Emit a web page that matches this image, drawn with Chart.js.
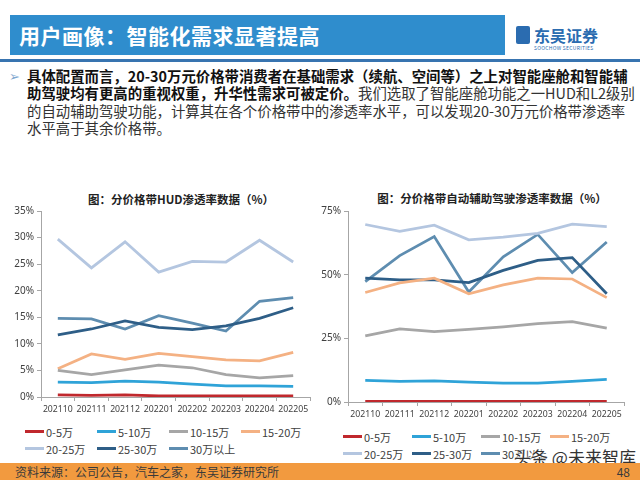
<!DOCTYPE html>
<html>
<head>
<meta charset="utf-8">
<title>用户画像：智能化需求显著提高</title>
<script src="https://cdn.jsdelivr.net/npm/chart.js"></script>
<style>
  body { margin:0; width:640px; height:480px; position:relative; overflow:hidden; background:#fff;
         font-family:"Noto Sans CJK SC", "Noto Sans", sans-serif; }
  .bar { position:absolute; left:10px; top:15px; width:495px; height:40px; background:#2F8DCD; }
  .bar span { position:absolute; left:9px; top:5px; color:#fff; font-weight:bold; font-size:21px; letter-spacing:0.5px; }
  .rule { position:absolute; left:0; top:59px; width:640px; height:3px; background:#3874B0; }
  .logo { position:absolute; left:516px; top:24px; width:100px; height:30px; }
  .logo .icon { position:absolute; left:0; top:2px; width:14px; height:18px; background:#2B6CB0; border-radius:2px; }
  .logo .cn { position:absolute; left:18px; top:-1px; font-size:16px; font-weight:bold; color:#2B6CB0; }
  .logo .en { position:absolute; left:18px; top:20px; font-size:5px; color:#2B6CB0; letter-spacing:0.3px; }
  .bullet { position:absolute; left:9px; top:66px; font-size:13px; color:#7FA7CF; }
  .text { position:absolute; left:27px; top:67px; font-size:14.4px; line-height:17.3px; color:#333; white-space:nowrap; }
  .text b { color:#111; }
  .ctitle { position:absolute; font-size:11.5px; font-weight:bold; color:#222; transform:translateX(-50%); white-space:nowrap; }
  canvas { position:absolute; }
  .legend { position:absolute; display:grid; row-gap:4px; font-size:11px; color:#404040; }
  .legend div { display:flex; align-items:center; height:13px; white-space:nowrap; }
  .legend i { display:inline-block; width:19px; height:3px; margin-right:2px; }
  .footer { position:absolute; left:0; top:463px; width:640px; height:17px; background:#F29A3F; }
  .footer span { position:absolute; left:15px; top:0px; font-size:12px; color:#3a3a3a; }
  .footer em { position:absolute; right:10px; top:0px; font-size:12px; font-style:normal; color:#3a3a3a; }
  .mark { position:absolute; left:514px; top:444px; font-size:17px; color:#333;
          text-shadow:0 0 2px #fff, 0 0 2px #fff; white-space:nowrap; }
</style>
</head>
<body>
  <div class="bar"><span>用户画像：智能化需求显著提高</span></div>
  <div class="rule"></div>
  <div class="logo"><div class="icon"></div><div class="cn">东吴证券</div><div class="en">SOOCHOW SECURITIES</div></div>

  <div class="bullet">➢</div>
  <div class="text">
    <b>具体配置而言，20-30万元价格带消费者在基础需求（续航、空间等）之上对智能座舱和智能辅</b><br>
    <b>助驾驶均有更高的重视权重，升华性需求可被定价。</b>我们选取了智能座舱功能之一HUD和L2级别<br>
    的自动辅助驾驶功能，计算其在各个价格带中的渗透率水平，可以发现20-30万元价格带渗透率<br>
    水平高于其余价格带。
  </div>

  <div class="ctitle" style="left:181px; top:191px;">图：分价格带HUD渗透率数据（%）</div>
  <div class="ctitle" style="left:492px; top:190px;">图：分价格带自动辅助驾驶渗透率数据（%）</div>

  <canvas id="hudChart" width="320" height="220" style="left:0; top:200px;"></canvas>
  <canvas id="adasChart" width="320" height="225" style="left:320px; top:200px;"></canvas>

  <div class="legend" id="hudLegend" style="left:25px; top:425px; grid-template-columns:repeat(4, 72px);"></div>
  <div class="legend" id="adasLegend" style="left:343px; top:430px; grid-template-columns:repeat(4, 69px);"></div>

  <div class="mark">头条 @未来智库</div>
  <div class="footer"><span>资料来源：公司公告，汽车之家，东吴证券研究所</span><em>48</em></div>

  <script>
    const months = ['202110', '202111', '202112', '202201', '202202', '202203', '202204', '202205'];
    const bands = ['0-5万', '5-10万', '10-15万', '15-20万', '20-25万', '25-30万', '30万以上'];
    const bandColors = ['#C0282D', '#2FA3D8', '#A6A6A6', '#F4B183', '#B4C6E0', '#2E5E87', '#5E8DB0'];

    // HUD penetration (%)
    const hud0to5 = [0.4, 0.3, 0.4, 0.2, 0.2, 0.2, 0.2, 0.2];
    const hud5to10 = [2.8, 2.7, 3.0, 2.8, 2.4, 2.1, 2.1, 2.0];
    const hud10to15 = [5.0, 4.2, 5.1, 6.0, 5.5, 4.2, 3.6, 4.0];
    const hud15to20 = [5.3, 8.1, 7.1, 8.2, 7.6, 7.0, 6.8, 8.4];
    const hud20to25 = [29.7, 24.3, 29.2, 23.5, 25.5, 25.4, 29.5, 25.4];
    const hud25to30 = [11.7, 12.8, 14.3, 13.1, 12.7, 13.4, 14.8, 16.8];
    const hud30plus = [14.8, 14.7, 12.8, 15.3, 13.9, 12.4, 18.0, 18.7];

    // L2 driver assistance penetration (%)
    const adas0to5 = [0.2, 0.2, 0.2, 0.2, 0.2, 0.2, 0.2, 0.2];
    const adas5to10 = [8.5, 8.1, 8.3, 7.8, 7.4, 7.4, 8.1, 8.9];
    const adas10to15 = [26.0, 28.7, 27.6, 28.5, 29.5, 30.8, 31.6, 29.0];
    const adas15to20 = [43.0, 46.8, 48.6, 42.5, 46.0, 48.6, 48.3, 41.0];
    const adas20to25 = [69.7, 67.0, 69.4, 63.7, 64.7, 66.2, 69.8, 68.9];
    const adas25to30 = [48.6, 48.0, 48.0, 46.9, 51.7, 55.6, 56.7, 42.5];
    const adas30plus = [47.3, 57.5, 65.0, 43.2, 57.0, 65.8, 50.8, 62.8];

    const hudSeries = [hud0to5, hud5to10, hud10to15, hud15to20, hud20to25, hud25to30, hud30plus];
    const adasSeries = [adas0to5, adas5to10, adas10to15, adas15to20, adas20to25, adas25to30, adas30plus];

    const axisColor = '#A6A6A6';
    const labelColor = '#404040';

    function makeChart(id, series, yMax, yStep, yWidth, padRight) {
      new Chart(document.getElementById(id), {
        type: 'line',
        data: {
          labels: months,
          datasets: series.map((values, i) => ({
            label: bands[i],
            data: values,
            borderColor: bandColors[i],
            backgroundColor: bandColors[i],
            borderWidth: 2.75,
            pointRadius: 0,
            tension: 0,
            fill: false
          }))
        },
        options: {
          responsive: false,
          animation: false,
          layout: { padding: { left: 0, right: padRight, top: 11, bottom: 0 } },
          plugins: {
            legend: { display: false },
            tooltip: { enabled: false }
          },
          scales: {
            x: {
              offset: true,
              grid: { offset: true, drawOnChartArea: false, tickLength: 4, color: axisColor },
              border: { color: axisColor },
              ticks: { maxRotation: 0, autoSkip: false, color: labelColor, padding: 3,
                       font: { size: 8.7, family: 'Noto Sans' } },
              afterFit: scale => { scale.height = 23; }
            },
            y: {
              min: 0,
              max: yMax,
              grid: { drawOnChartArea: false, tickLength: 4, color: axisColor },
              border: { color: axisColor },
              ticks: { stepSize: yStep, color: labelColor, padding: 3,
                       font: { size: 10, family: 'Noto Sans' },
                       callback: v => v + '%' },
              afterFit: scale => { scale.width = yWidth; }
            }
          }
        }
      });
    }

    function makeLegend(id) {
      const box = document.getElementById(id);
      bands.forEach((name, i) => {
        const item = document.createElement('div');
        item.innerHTML = `<i style="background:${bandColors[i]}"></i>${name}`;
        box.appendChild(item);
      });
    }

    makeChart('hudChart', hudSeries, 35, 5, 41, 10);
    makeChart('adasChart', adasSeries, 75, 25, 28, 16);
    makeLegend('hudLegend');
    makeLegend('adasLegend');
  </script>
</body>
</html>
